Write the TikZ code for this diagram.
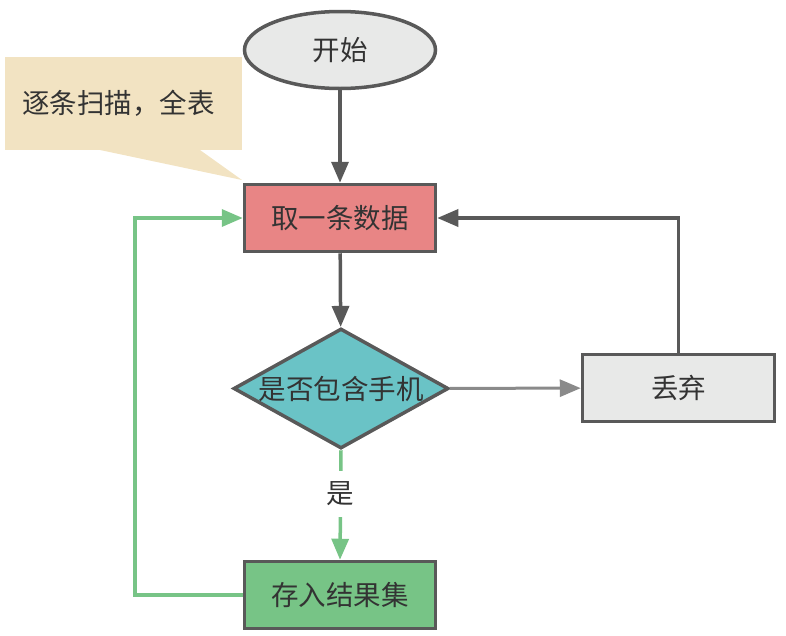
\documentclass[tikz,border=0pt]{standalone}
\usepackage{fontspec}
\setmainfont{Noto Sans CJK SC}
\usepackage{xcolor}
\usetikzlibrary{shapes.geometric,arrows.meta,positioning}
\definecolor{edgegray}{HTML}{595959}
\definecolor{lightline}{HTML}{8A8A8A}
\definecolor{txtgray}{HTML}{333333}
\definecolor{startfill}{HTML}{E8E9E8}
\definecolor{fetchfill}{HTML}{E88585}
\definecolor{checkfill}{HTML}{6AC3C6}
\definecolor{storefill}{HTML}{77C486}
\definecolor{notefill}{HTML}{F2E3C2}
\tikzset{
x=1pt, y=-1pt, % pixel units, y grows downwards
every node/.style={text=txtgray, font=\fontsize{27.5}{31}\selectfont}, % text of every node
block/.style={draw=edgegray, line width=3.5pt, minimum width=191pt, minimum height=67pt, inner sep=0pt}, % the process boxes
tip/.style={-{Triangle[length=21pt, width=17pt]}}, % the filled arrow heads
darkarrow/.style={tip, draw=edgegray, line width=3.5pt},
grayarrow/.style={tip, draw=lightline, line width=3pt},
greenline/.style={draw=storefill, line width=3.5pt},
greenarrow/.style={greenline, tip}
}
\begin{document}
\begin{tikzpicture}
        \useasboundingbox (0,0) rectangle (786,635);
        % note
        \node[anchor=west, fill=notefill, minimum width=237pt, minimum height=93pt, inner xsep=17pt, inner ysep=0pt, text width=203pt, align=left] (note) at (5,103.5) {逐条扫描，全表};
        \coordinate (notetip) at (242,180);
        \fill[notefill] (100,150) -- (200,150) -- (notetip) -- cycle;
        % nodes
        \node[ellipse, draw=edgegray, line width=3.5pt, fill=startfill, minimum width=191pt, minimum height=77pt, inner sep=0pt] (start) at (340,50) {开始};
        \node[block, fill=fetchfill] (fetch) at (340,218) {取一条数据};
        \node[diamond, draw=edgegray, line width=3.5pt, fill=checkfill, shape aspect=1.77, minimum width=215pt, minimum height=120pt, inner sep=0pt] (check) at (341,388.5) {是否包含手机};
        \node[block, fill=startfill, minimum width=192pt] (drop) at (678.5,388) {丢弃};
        \node[block, fill=storefill] (store) at (340,595) {存入结果集};
        \coordinate (loop) at (135,595);
        % edges
        \draw[darkarrow] (start) -- (fetch);
        \draw[darkarrow] (fetch) -- (check);
        \draw[grayarrow] (check) -- (drop);
        \draw[darkarrow] (drop.north) |- (fetch.east);
        \draw[greenarrow] (check.south) -- node[pos=0.4, fill=white, inner xsep=4pt, inner ysep=11pt] {是} (store.north);
        \draw[greenarrow] (store.west) -- (loop) |- (fetch.west);
\end{tikzpicture}
\end{document}
